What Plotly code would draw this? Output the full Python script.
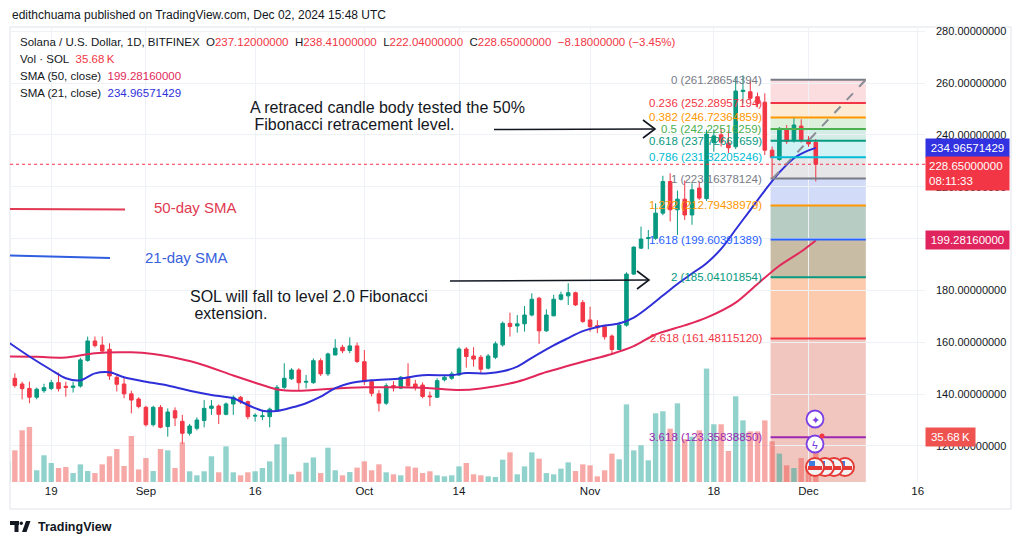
import plotly.graph_objects as go
import pandas as pd

# ---------------- data ----------------
dates = pd.date_range("2024-08-13", "2024-12-02", freq="D")

opens = [
    145.6, 146.1, 143.9, 142.2, 138.8, 141.3, 142.2, 144.4, 143.0, 142.6, 143.1, 153.0, 160.5, 158.9, 157.3, 146.5, 143.9, 140.1, 138.1,
    134.9, 128.2, 134.9, 127.5, 133.6, 129.5, 124.9, 126.8, 129.8, 134.5, 135.4, 132.2, 136.2, 138.8, 137.1, 131.5, 131.3, 131.3, 133.9, 142.6,
    145.9, 149.3, 144.6, 144.4, 152.9, 147.8, 155.1, 158.1, 156.8, 158.6,
    152.5, 144.8, 140.1, 136.5, 143.3, 142.3, 146.5, 143.9, 143.5, 139.3, 138.8, 145.5, 146.1, 147.4, 157.4, 154.7, 154.2, 150.0, 154.2, 159.0,
    167.3, 166.3, 167.1, 170.5, 177.0, 164.4, 170.2, 176.6, 177.9, 179.1, 175.3,
    168.6, 166.4, 166.0, 162.4, 157.2, 166.6, 186.3, 196.3, 200.0, 200.1, 209.8, 222.0, 211.1, 215.2, 209.1, 219.5, 215.4, 237.0, 240.0, 236.8,
    235.4, 256.7, 256.6, 254.7, 252.6, 234.1, 230.5, 241.9, 238.0, 243.4,
    238.0, 237.12]
highs = [
    148.0, 148.0, 144.8, 144.8, 142.5, 144.0, 145.5, 148.3, 144.8, 144.8, 154.0, 162.2, 162.2, 162.2, 159.6, 147.5, 146.5, 141.3, 138.8,
    135.5, 135.5, 135.8, 134.5, 134.9, 132.0, 128.5, 131.0, 137.7, 137.7, 136.0, 136.8, 139.5, 139.3, 137.5, 132.6, 133.9, 134.8, 143.5, 151.9,
    150.0, 150.0, 147.4, 153.8, 153.8, 156.0, 161.2, 159.0, 161.9, 159.9,
    157.0, 145.5, 141.6, 144.2, 145.0, 147.0, 151.9, 145.5, 144.5, 141.0, 146.1, 147.0, 148.7, 158.1, 158.1, 158.1, 155.1, 155.5, 160.3, 168.0,
    171.4, 170.5, 174.0, 178.9, 177.5, 172.7, 178.3, 179.5, 182.8, 179.5, 176.3,
    173.7, 168.5, 166.6, 163.0, 167.9, 187.0, 197.0, 204.6, 203.3, 213.6, 224.2, 225.2, 218.5, 222.4, 221.3, 222.0, 242.0, 242.1, 242.5, 241.9,
    262.5, 263.0, 261.1, 256.3, 256.0, 235.5, 243.0, 243.8, 247.0, 246.0,
    239.5, 238.41]
lows = [
    144.0, 142.5, 138.0, 136.5, 138.0, 140.5, 141.5, 141.0, 139.0, 140.6, 142.5, 152.5, 158.0, 156.0, 145.5, 141.0, 138.4, 132.6, 134.5,
    127.5, 127.5, 126.8, 123.6, 127.7, 120.8, 124.0, 126.0, 127.2, 132.0, 128.5, 131.8, 132.0, 136.2, 130.3, 129.4, 130.0, 127.2, 133.5, 142.0,
    145.5, 141.6, 142.2, 144.0, 147.0, 147.0, 155.0, 155.8, 155.8, 152.0,
    143.5, 139.1, 133.3, 135.8, 141.0, 142.0, 142.5, 141.4, 138.4, 135.4, 138.5, 144.9, 145.5, 147.0, 150.2, 150.6, 147.8, 149.5, 153.5, 158.3,
    162.2, 163.7, 164.1, 170.0, 159.4, 164.0, 170.0, 176.1, 174.4, 174.0, 167.5,
    164.1, 163.5, 161.0, 155.1, 157.0, 166.0, 186.0, 196.0, 195.9, 199.5, 209.0, 206.6, 201.4, 207.2, 205.3, 214.9, 214.5, 233.5, 235.5, 232.9,
    234.5, 252.1, 253.2, 250.6, 232.2, 223.16, 230.0, 236.5, 237.0, 237.0,
    235.4, 222.04]
closes = [
    146.6, 143.3, 142.1, 138.8, 141.9, 142.5, 144.4, 142.1, 142.6, 143.1, 153.2, 160.5, 158.7, 156.6, 147.0, 143.8, 140.1, 137.7, 135.2,
    128.2, 134.9, 127.2, 133.1, 130.8, 124.9, 127.7, 130.0, 134.5, 135.4, 132.2, 136.2, 138.8, 137.0, 131.3, 131.8, 131.6, 134.2, 142.6, 146.1,
    149.3, 144.4, 144.9, 152.9, 147.8, 155.5, 157.7, 156.7, 158.6, 152.6,
    144.8, 140.3, 136.5, 143.2, 142.4, 146.5, 143.2, 142.6, 139.1, 139.0, 145.2, 146.5, 147.8, 157.4, 154.5, 153.5, 149.6, 154.7, 159.4, 167.3,
    166.1, 167.1, 170.5, 176.6, 164.4, 170.5, 176.6, 178.3, 179.1, 174.4, 168.0,
    166.0, 165.6, 162.1, 157.2, 166.6, 186.3, 196.7, 199.8, 200.3, 209.8, 222.0, 211.1, 215.2, 209.1, 218.8, 215.6, 240.3, 239.6, 237.2, 235.0,
    256.9, 257.2, 254.1, 252.1, 234.1, 231.3, 242.5, 237.4, 243.8, 238.0,
    236.5, 228.65]
volumes_k = [
    16.4, 25.1, 41.0, 43.7, 9.3, 21.2, 15.1, 11.1, 11.9, 7.1, 14.0, 8.7, 7.1, 14.0, 20.4, 26.2, 12.7, 36.5, 10.0,
    19.0, 8.7, 26.2, 25.1, 11.1, 31.5, 8.5, 5.3, 8.5, 20.4, 7.7, 28.3, 7.7, 5.3, 7.7, 8.5, 11.1, 16.4, 29.9, 35.4,
    6.1, 8.2, 15.3, 19.5, 7.1, 27.2, 9.3, 5.3, 7.9, 11.4,
    16.4, 9.3, 14.0, 7.7, 6.1, 5.3, 12.4, 11.4, 7.1, 8.5, 5.3, 4.5, 5.3, 12.4, 15.1, 6.1, 5.3, 4.5, 4.0, 17.7,
    23.5, 6.1, 12.4, 23.5, 18.5, 7.1, 6.1, 10.6, 15.6, 8.7, 14.0,
    13.2, 4.5, 9.3, 22.5, 18.0, 61.6, 25.1, 29.1, 17.2, 54.5, 56.1, 42.3, 62.4, 34.0, 36.0, 41.0, 90.0, 45.8, 45.8, 24.6,
    68.0, 48.9, 40.2, 40.2, 48.9, 32.3, 22.5, 13.2, 11.1, 19.0,
    12.0, 35.68]

sma21_dates = ["2024-08-13", "2024-08-16", "2024-08-19", "2024-08-21", "2024-08-23", "2024-08-25", "2024-08-27",
               "2024-08-29", "2024-09-01", "2024-09-04", "2024-09-07", "2024-09-10", "2024-09-13", "2024-09-15",
               "2024-09-17", "2024-09-19", "2024-09-21", "2024-09-23", "2024-09-25", "2024-09-27", "2024-09-29",
               "2024-10-02", "2024-10-06", "2024-10-09", "2024-10-13", "2024-10-15", "2024-10-18", "2024-10-20",
               "2024-10-22", "2024-10-24", "2024-10-27", "2024-10-29", "2024-10-31", "2024-11-03", "2024-11-05",
               "2024-11-07", "2024-11-09", "2024-11-11", "2024-11-13", "2024-11-15", "2024-11-17", "2024-11-19",
               "2024-11-21", "2024-11-23", "2024-11-25", "2024-11-27", "2024-11-29", "2024-12-01", "2024-12-02"]
sma21_vals = [160.2, 154.5, 149.3, 146.1, 145.3, 148.0, 148.4,
              146.5, 144.8, 143.3, 141.3, 139.7, 138.4, 135.8,
              133.6, 133.5, 134.8, 136.5, 139.0, 142.3, 144.2,
              145.3, 146.0, 147.3, 147.3, 148.1, 148.0, 148.8,
              150.6, 154.0, 158.8, 161.6, 164.3, 166.5, 167.2,
              169.5, 173.5, 178.0, 182.5, 186.5, 190.5, 196.0,
              203.5, 211.0, 218.5, 225.5, 231.0, 234.0, 234.97]

sma50_dates = ["2024-08-13", "2024-08-17", "2024-08-21", "2024-08-25", "2024-08-30", "2024-09-02", "2024-09-04",
               "2024-09-08", "2024-09-13", "2024-09-16", "2024-09-19", "2024-09-22", "2024-09-26", "2024-10-01",
               "2024-10-06", "2024-10-10", "2024-10-14", "2024-10-17", "2024-10-22", "2024-10-26", "2024-10-31",
               "2024-11-04", "2024-11-07", "2024-11-10", "2024-11-14", "2024-11-17", "2024-11-21", "2024-11-24",
               "2024-11-27", "2024-11-30", "2024-12-02"]
sma50_vals = [154.5, 154.4, 154.1, 155.8, 156.1, 155.5, 154.6,
              152.0, 147.2, 144.4, 141.8, 141.3, 142.0, 142.6,
              142.6, 142.3, 141.6, 142.2, 144.8, 148.5, 152.5,
              155.5, 158.5, 163.0, 166.5, 169.5, 175.3, 182.5,
              189.5, 195.0, 199.28]

fib_ratios = ["0", "0.236", "0.382", "0.5", "0.618", "0.786", "1", "1.272", "1.618", "2", "2.618", "3.618"]
fib_prices = [261.28654394, 252.28957194, 246.72364859, 242.22516259, 237.72667659, 231.32205246,
              223.16378124, 212.79438979, 199.60391389, 185.04101854, 161.48115120, 123.35838850]
fib_floor_price = 99.80  # 4.236 level (off-screen)
fib_start_date = "2024-11-25 19:00"
fib_end_date = "2024-12-08 21:00"

x_tick_dates = ["2024-08-19", "2024-09-01", "2024-09-16", "2024-10-01", "2024-10-14",
                "2024-11-01", "2024-11-18", "2024-12-01", "2024-12-16"]
x_tick_text = ["19", "Sep", "16", "Oct", "14", "Nov", "18", "Dec", "16"]
y_ticks = [120, 140, 160, 180, 200, 220, 240, 260, 280]

last_close = 228.65
last_sma21 = 234.96571429
last_sma50 = 199.28160000
last_vol = 35.68

# ---------------- styles ----------------
FONT = "Liberation Sans, Arial, sans-serif"
TXT = "#131722"
UP = "#089981"
DOWN = "#f23645"
SMA50_C = "#e2285a"
SMA21_C = "#2f2fd9"
fib_colors = ["#787b86", "#f23645", "#ff9800", "#4caf50", "#089981", "#00bcd4",
              "#787b86", "#ff9800", "#2962ff", "#089981", "#f23645", "#9c27b0"]
band_colors = ["#fbdde0", "#fdebd3", "#dcf0dc", "#d3ece6", "#d2f3f6", "#e6e6e8",
               "#d2dcf8", "#b7ccc2", "#c8bca4", "#fccbae", "#f0c6bf", "#f0c6bf"]

# page body has an 8px margin: figure is sized to fit the window from (8, 8)
W, H = 1013, 537
L, R, T, B = 2, 96, 19, 63
PW, PH = W - L - R, H - T - B
OFF = 8
PLOT_X0 = OFF + L          # screen x of plot left edge
PLOT_Y1 = OFF + H - B      # screen y of plot bottom edge


def px(x):
    return (x - PLOT_X0) / PW


def py(y):
    return (PLOT_Y1 - y) / PH


fig = go.Figure()

vol_colors = ["rgba(38,166,154,0.5)" if c >= o else "rgba(239,83,80,0.5)" for o, c in zip(opens, closes)]
fig.add_trace(go.Bar(x=dates, y=volumes_k, marker=dict(color=vol_colors, line=dict(width=0)),
                     width=0.74 * 86400000, yaxis="y2", hoverinfo="skip"))

fig.add_trace(go.Candlestick(x=dates, open=opens, high=highs, low=lows, close=closes,
                             increasing=dict(line=dict(color=UP, width=1), fillcolor=UP),
                             decreasing=dict(line=dict(color=DOWN, width=1), fillcolor=DOWN),
                             whiskerwidth=0))

fig.add_trace(go.Scatter(x=sma50_dates, y=sma50_vals, mode="lines",
                         line=dict(color=SMA50_C, width=2, shape="spline", smoothing=0.8), hoverinfo="skip"))
fig.add_trace(go.Scatter(x=sma21_dates, y=sma21_vals, mode="lines",
                         line=dict(color=SMA21_C, width=2, shape="spline", smoothing=0.8), hoverinfo="skip"))

shapes = []
# fib bands
band_edges = fib_prices + [fib_floor_price]
for i in range(len(band_colors)):
    shapes.append(dict(type="rect", xref="x", yref="y", x0=fib_start_date, x1=fib_end_date,
                       y0=band_edges[i + 1], y1=band_edges[i], fillcolor=band_colors[i],
                       line=dict(width=0), layer="below"))
# fib lines
for p, c in zip(fib_prices, fib_colors):
    shapes.append(dict(type="line", xref="x", yref="y", x0=fib_start_date, x1=fib_end_date,
                       y0=p, y1=p, line=dict(color=c, width=2)))
# trend (dashed) line of the fib tool
shapes.append(dict(type="line", xref="x", yref="y", x0="2024-11-26 02:00", y0=fib_prices[6],
                   x1=fib_end_date, y1=fib_prices[0], line=dict(color="#8a8d96", width=2, dash="dash")))
# last price dotted line
shapes.append(dict(type="line", xref="paper", yref="y", x0=0, x1=1, y0=last_close, y1=last_close,
                   line=dict(color=DOWN, width=1, dash="dot")))
# legend lines for SMA drawings
shapes.append(dict(type="line", xref="paper", yref="paper", x0=px(10), x1=px(125), y0=py(209), y1=py(209.5),
                   line=dict(color="#e23a52", width=2)))
shapes.append(dict(type="line", xref="paper", yref="paper", x0=px(10), x1=px(110), y0=py(255.5), y1=py(258),
                   line=dict(color="#2f5ee0", width=2)))
# arrows
for (x0, y0, x1, y1) in [(494, 129.5, 655, 129), (450, 281, 649, 280)]:
    shapes.append(dict(type="line", xref="paper", yref="paper", x0=px(x0), y0=py(y0), x1=px(x1), y1=py(y1),
                       line=dict(color="#131722", width=1.6)))
    shapes.append(dict(type="path", xref="paper", yref="paper",
                       path=f"M {px(x1-12)},{py(y1-9)} L {px(x1)},{py(y1)} L {px(x1-12)},{py(y1+9)}",
                       line=dict(color="#131722", width=1.6)))
# outer frame
shapes.append(dict(type="rect", xref="paper", yref="paper", x0=px(10), x1=px(1011), y0=py(509), y1=py(27),
                   line=dict(color="#e0e3eb", width=1), layer="below"))
# event icons near Dec
for cx in [845, 834, 825, 815]:
    shapes.append(dict(type="circle", xref="paper", yref="paper", x0=px(cx - 9), x1=px(cx + 9),
                       y0=py(476), y1=py(458), fillcolor="#f4f4f4", line=dict(color="#e53935", width=2)))
    shapes.append(dict(type="rect", xref="paper", yref="paper", x0=px(cx - 7), x1=px(cx + 7),
                       y0=py(470), y1=py(466), fillcolor="#e53935", line=dict(width=0)))
    shapes.append(dict(type="rect", xref="paper", yref="paper", x0=px(cx - 6), x1=px(cx), y0=py(466),
                       y1=py(461), fillcolor="#3d7be0", line=dict(width=0)))
for cy in [419, 444]:
    shapes.append(dict(type="circle", xref="paper", yref="paper", x0=px(806.5), x1=px(823.5),
                       y0=py(cy + 8.5), y1=py(cy - 8.5), fillcolor="white", line=dict(color="#7b3fe4", width=1.8)))
shapes.append(dict(type="circle", xref="paper", yref="paper", x0=px(819.5), x1=px(824.5),
                   y0=py(438.5), y1=py(433.5), fillcolor="#f23645", line=dict(width=0)))
# TradingView logo
shapes.append(dict(type="rect", xref="paper", yref="paper", x0=px(10), x1=px(19), y0=py(525), y1=py(521),
                   fillcolor="#131722", line=dict(width=0)))
shapes.append(dict(type="rect", xref="paper", yref="paper", x0=px(14.5), x1=px(18.5), y0=py(532), y1=py(521),
                   fillcolor="#131722", line=dict(width=0)))
shapes.append(dict(type="circle", xref="paper", yref="paper", x0=px(19.5), x1=px(23), y0=py(525), y1=py(521.5),
                   fillcolor="#131722", line=dict(width=0)))
shapes.append(dict(type="path", xref="paper", yref="paper",
                   path=f"M {px(22)},{py(532)} L {px(26)},{py(521)} L {px(30.5)},{py(521)} L {px(26.5)},{py(532)} Z",
                   fillcolor="#131722", line=dict(width=0)))

ann = []
# fib labels
for r_, p, c in zip(fib_ratios, fib_prices, fib_colors):
    ann.append(dict(xref="x", yref="y", x=fib_start_date, y=p, text=f"{r_} ({p:.8f})", showarrow=False,
                    xanchor="right", yanchor="middle", xshift=-7, font=dict(family=FONT, size=11.5, color=c)))


def ptext(x, y, text, size, color, anchor="left", bold=False):
    return dict(xref="paper", yref="paper", x=px(x), y=py(y), text=(f"<b>{text}</b>" if bold else text),
                showarrow=False, xanchor=anchor, yanchor="middle", font=dict(family=FONT, size=size, color=color))


sp = "\u00a0"
red = DOWN
ann.append(ptext(10, 15, "edithchuama published on TradingView.com, Dec 02, 2024 15:48 UTC", 12, TXT))
ohlc = (f"Solana / U.S. Dollar, 1D, BITFINEX{sp*2}O<span style='color:{red}'>{opens[-1]:.8f}</span>{sp*2}"
        f"H<span style='color:{red}'>{highs[-1]:.8f}</span>{sp*2}L<span style='color:{red}'>{lows[-1]:.8f}</span>"
        f"{sp*2}C<span style='color:{red}'>{closes[-1]:.8f}{sp*2}\u22128.18000000 (\u22123.45%)</span>")
ann.append(ptext(18, 42, ohlc, 11.5, TXT))
ann.append(ptext(18, 59, f"Vol \u00b7 SOL{sp*2}<span style='color:{red}'>{last_vol:.2f}\u2009K</span>", 11.5, TXT))
ann.append(ptext(18, 76, f"SMA (50, close){sp*2}<span style='color:{SMA50_C}'>{last_sma50:.8f}</span>", 11.5, TXT))
ann.append(ptext(18, 93, f"SMA (21, close){sp*2}<span style='color:{SMA21_C}'>{last_sma21:.8f}</span>", 11.5, TXT))

ann.append(ptext(248, 107, "A retraced candle body tested the 50%", 16, TXT))
ann.append(ptext(248, 124, "\u00a0Fibonacci retracement level.", 16, TXT))
ann.append(ptext(188, 296, "SOL will fall to level 2.0 Fibonacci", 16, TXT))
ann.append(ptext(188, 313, "\u00a0extension.", 16, TXT))
ann.append(ptext(152, 207, "50-day SMA", 15, "#e03a50"))
ann.append(ptext(143, 257, "21-day SMA", 15, "#3760db"))

# right axis value boxes
ann.append(dict(xref="paper", yref="y", x=1.0, y=last_sma21, text=f"{last_sma21:.8f}", showarrow=False,
                xanchor="left", yanchor="middle", bgcolor="#3232e0", borderpad=3, width=77,
                font=dict(family=FONT, size=11.5, color="white")))
ann.append(dict(xref="paper", yref="y", x=1.0, y=last_close, text=f"{last_close:.8f}<br>08:11:33",
                showarrow=False, xanchor="left", yanchor="top", yshift=8, bgcolor=DOWN, borderpad=3, width=77,
                align="left", font=dict(family=FONT, size=11.5, color="white")))
ann.append(dict(xref="paper", yref="y", x=1.0, y=last_sma50, text=f"{last_sma50:.8f}", showarrow=False,
                xanchor="left", yanchor="middle", bgcolor="#e0245e", borderpad=3, width=77,
                font=dict(family=FONT, size=11.5, color="white")))
ann.append(dict(xref="paper", yref="y2", x=1.0, y=last_vol, text=f"{last_vol:.2f}\u2009K", showarrow=False,
                xanchor="left", yanchor="middle", bgcolor="#ef5350", borderpad=3, width=43,
                font=dict(family=FONT, size=11.5, color="white")))

# icon glyphs
ann.append(ptext(815, 419.5, "\u2726", 11, "#7b3fe4", anchor="center"))
ann.append(ptext(815, 444.5, "\u03df", 11, "#7b3fe4", anchor="center"))
# logo text
ann.append(ptext(36, 527, "TradingView", 12.5, TXT, bold=True))

fig.update_layout(
    width=W, height=H, margin=dict(l=L, r=R, t=T, b=B),
    paper_bgcolor="white", plot_bgcolor="white", showlegend=False,
    font=dict(family=FONT, color=TXT),
    xaxis=dict(type="date", range=["2024-08-13 08:00", "2024-12-17 00:00"],
               tickvals=x_tick_dates, ticktext=x_tick_text, showgrid=True, gridcolor="#eef1f6",
               rangeslider=dict(visible=False), zeroline=False, showline=False, ticks="",
               tickfont=dict(family=FONT, size=11.5, color=TXT)),
    yaxis=dict(side="right", range=[106.1, 281.6], tickvals=y_ticks,
               ticktext=[f"{v:.8f}" for v in y_ticks], showgrid=True, gridcolor="#eef1f6",
               zeroline=False, showline=False, ticks="", ticklabelstandoff=10,
               tickfont=dict(family=FONT, size=11, color=TXT)),
    yaxis2=dict(overlaying="y", range=[0, 361], visible=False),
    shapes=shapes, annotations=ann, hovermode=False,
)

fig.write_html("out.html")
